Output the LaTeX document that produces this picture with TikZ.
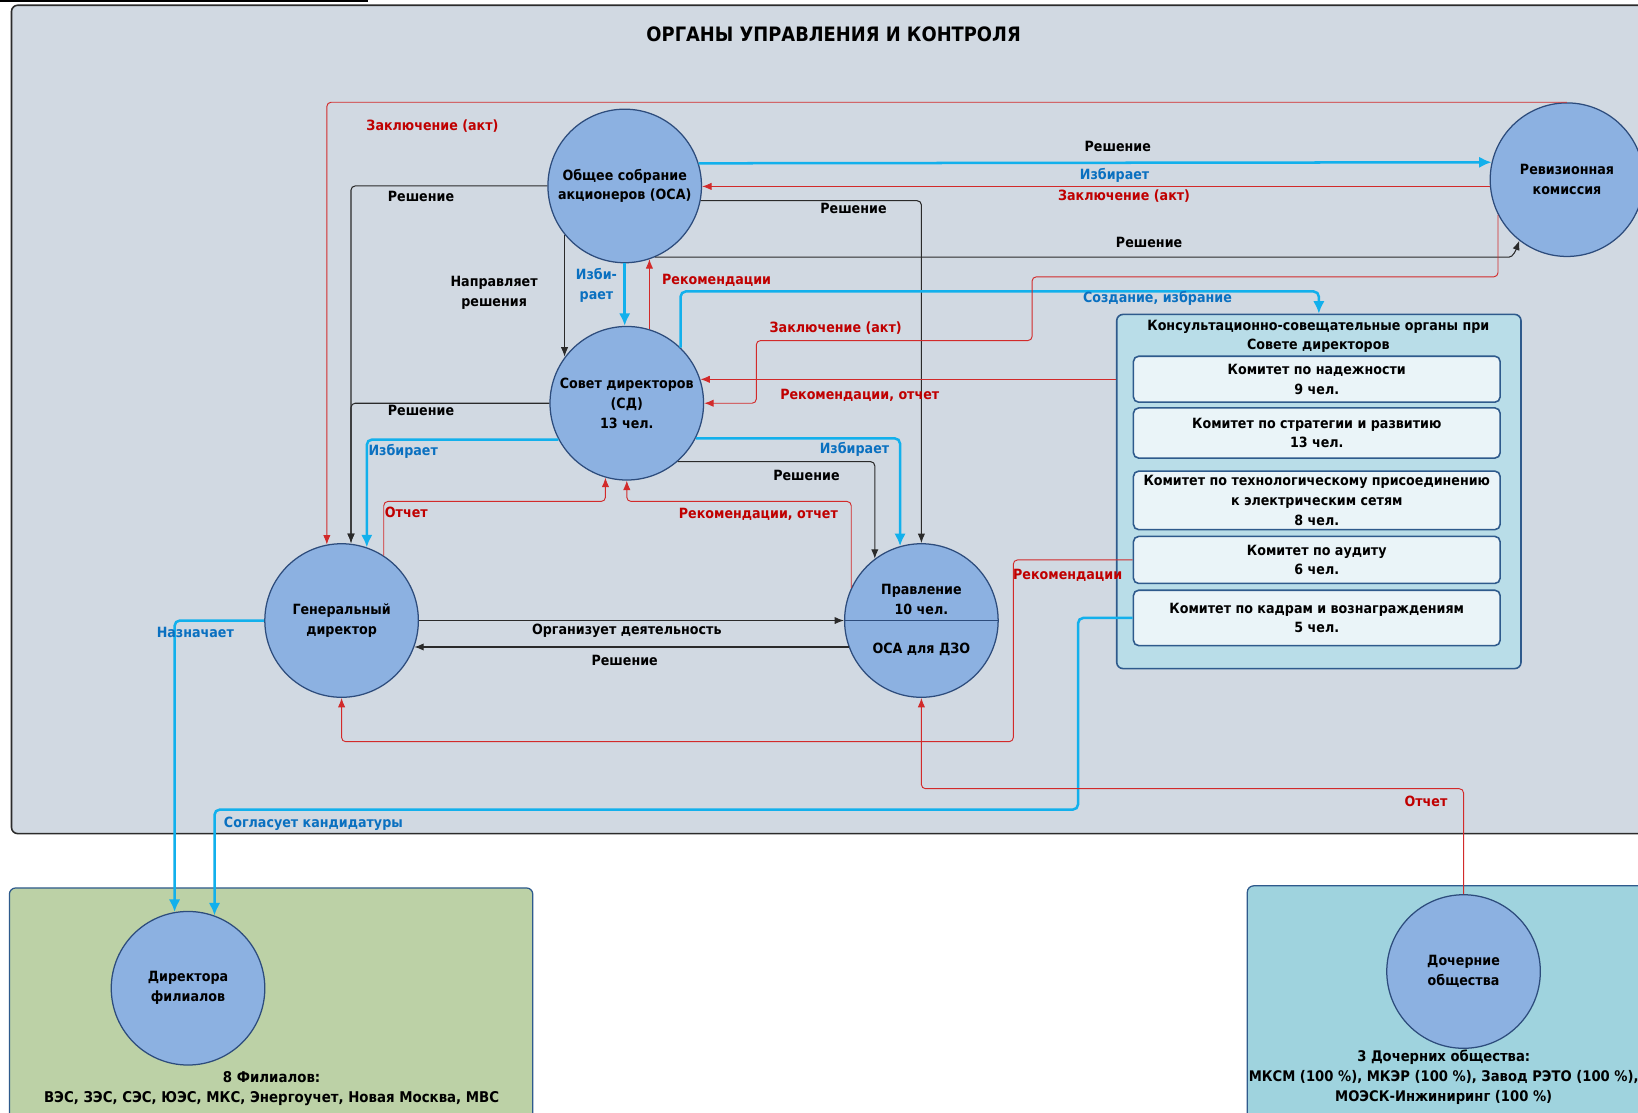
\documentclass[tikz,border=0pt]{standalone}
\usepackage{fontspec}
\setmainfont{DejaVu Sans}[FakeStretch=0.9]
\usetikzlibrary{positioning,arrows.meta}
\definecolor{bgmain}{HTML}{D1D9E2}
\definecolor{frameedge}{HTML}{2B2B2B}
\definecolor{circfill}{HTML}{8CB1E1}
\definecolor{circedge}{HTML}{2D4C7C}
\definecolor{ksofill}{HTML}{B9DDE8}
\definecolor{komfill}{HTML}{EAF4F8}
\definecolor{boxedge}{HTML}{2E5A8C}
\definecolor{filfill}{HTML}{BCD1A6}
\definecolor{dzofill}{HTML}{9FD3DE}
\definecolor{lineblk}{HTML}{2A2A2A}
\definecolor{linecyan}{HTML}{12B0EC}
\definecolor{linered}{HTML}{D22A2A}
\definecolor{labred}{HTML}{C00000}
\definecolor{labblue}{HTML}{0A70C0}

\begin{document}
\begin{tikzpicture}[x=1pt,y=-1pt,
  every node/.style={font=\bfseries\fontsize{13.5}{19}\selectfont, align=center, inner sep=1pt},
  organ/.style={circle, draw=circedge, fill=circfill, line width=1.2pt, minimum size=147pt, inner sep=0pt},
  kom/.style={draw=boxedge, fill=komfill, rounded corners=5pt, line width=1.5pt, minimum width=351pt},
  blk/.style={draw=lineblk, line width=1pt, rounded corners=4pt, -{Latex[length=9pt,width=7pt]}},
  cyn/.style={draw=linecyan, line width=2.4pt, rounded corners=5pt, -{Latex[length=12pt,width=11pt]}},
  rd/.style={draw=linered, line width=0.9pt, rounded corners=4pt, -{Latex[length=9pt,width=7pt]}},
  rtxt/.style={text=labred}, btxt/.style={text=labblue}]
  \fill[white] (0,0) rectangle (1568,1065);
  \useasboundingbox (0,0) rectangle (1568,1065);
  \clip (0,0) rectangle (1568,1065);
  \draw[line width=1.2pt] (0,1) -- (352,1);
  \draw[fill=bgmain, draw=frameedge, line width=1.5pt, rounded corners=6pt] (11,5) rectangle (1600,798);
  \node[font=\bfseries\fontsize{19}{22}\selectfont] (title) at (798,33) {ОРГАНЫ УПРАВЛЕНИЯ И КОНТРОЛЯ};

  \draw[fill=filfill, draw=boxedge, line width=1.2pt, rounded corners=6pt] (9,850) rectangle (510,1090);
  \draw[fill=dzofill, draw=boxedge, line width=1.2pt, rounded corners=6pt] (1194,848) rectangle (1600,1090);
  \node[font=\bfseries\fontsize{14.2}{19}\selectfont] (fil) at (260,1042) {8 Филиалов:\\ВЭС, ЗЭС, СЭС, ЮЭС, МКС, Энергоучет, Новая Москва, МВС};
  \node[font=\bfseries\fontsize{14}{19}\selectfont] (dzo) at (1382,1031) {3 Дочерних общества:\\МКСМ (100 \%), МКЭР (100 \%), Завод РЭТО (100 \%),\\МОЭСК-Инжиниринг (100 \%)};

  \node[draw=boxedge, fill=ksofill, rounded corners=6pt, line width=1.5pt, minimum width=387pt, minimum height=339pt] (kso) at (1262.5,470.5) {};
  \node (ksot) at (1262,322) {Консультационно-совещательные органы при\\Совете директоров};
  \node[kom, minimum height=44pt] (k1) at (1260.5,363) {Комитет по надежности\\9 чел.};
  \node[kom, minimum height=48pt, below=4pt of k1] (k2) {Комитет по стратегии и развитию\\13 чел.};
  \node[kom, minimum height=56pt, below=11pt of k2] (k3) {Комитет по технологическому присоединению\\к электрическим сетям\\8 чел.};
  \node[kom, minimum height=45pt, below=5pt of k3] (k4) {Комитет по аудиту\\6 чел.};
  \node[kom, minimum height=53pt, below=5pt of k4] (k5) {Комитет по кадрам и вознаграждениям\\5 чел.};

  \node[organ] (osa) at (598,178) {Общее собрание\\акционеров (ОСА)};
  \node[organ] (rev) at (1500,172) {Ревизионная\\комиссия};
  \node[organ] (sd) at (600,386) {Совет директоров\\(СД)\\13 чел.};
  \node[organ] (gd) at (327,594) {Генеральный\\директор};
  \node[organ] (pr) at (882,594) {};
  \draw[circedge, line width=1.2pt] (pr.west) -- (pr.east);
  \node (prt) at (882,574) {Правление\\10 чел.};
  \node (prd) at (882,622) {ОСА для ДЗО};
  \node[organ] (df) at (180,946) {Директора\\филиалов};
  \node[organ] (do) at (1401,930) {Дочерние\\общества};

  \coordinate (otchY) at (0,480);
  \coordinate (dzoY) at (0,755);

  \draw[blk] (osa.west) -| ([xshift=9pt]gd.north);
  \draw[blk] (sd.west) -| ([xshift=9pt]gd.north);
  \draw[blk] (osa.219) -- (osa.219 |- sd.143);
  \draw[blk] (osa.-11) -| (pr.north);
  \draw[blk] (osa.-67) -- ([xshift=-14pt]rev.232 |- osa.-67) to[out=0,in=-110] (rev.232);
  \draw[blk] (sd.-49) -| (pr.127);
  \draw[blk] (gd.east) -- (pr.west);
  \draw[blk] (pr.200) -- (gd.-20);

  \draw[cyn] (osa.17.5) -- (rev.167.5);
  \draw[cyn] (osa.south) -- (osa.south |- sd.north);
  \draw[cyn] (sd.208) -| (gd.71);
  \draw[cyn] (sd.-27) -| (pr.106);
  \draw[cyn] (sd.46) -- (sd.46 |- 0,279) -| (kso.north);
  \draw[cyn] (gd.west) -| (df.100);
  \draw[cyn] (k5.west) -| (1032,775) -| (df.70);

  \draw[rd] (rev.north) -| (gd.101);
  \draw[rd] (rev.185) -- (rev.185 -| osa.east);
  \draw[rd] (rev.207) |- (988,265) |- (724,326) |- (sd.east);
  \draw[rd] (kso.west |- sd.18) -- (sd.18);
  \draw[rd] (sd.73.5) -- (sd.73.5 |- osa.-71.6);
  \draw[rd] (gd.57) |- (sd.-106 |- otchY) -- (sd.-106);
  \draw[rd] (pr.155) |- (sd.south |- otchY) -- (sd.south);
  \draw[rd] (k4.west) -| (970,710) -| (gd.south);
  \draw[rd] (do.north) |- (pr.south |- dzoY) -- (pr.south);

  \node (l1) at (403,188) {Решение};
  \node (l2) at (403,393) {Решение};
  \node (l3) at (473,280) {Направляет\\решения};
  \node (l4) at (817,200) {Решение};
  \node (l5) at (1100,232) {Решение};
  \node (l6) at (772,455) {Решение};
  \node (l7) at (600,604) {Организует деятельность};
  \node (l8) at (598,632) {Решение};
  \node (l9) at (1070,140) {Решение};
  \node[btxt] (c1) at (1067,168) {Избирает};
  \node[btxt] (c2) at (571,273) {Изби-\\рает};
  \node[btxt] (c3) at (386,432) {Избирает};
  \node[btxt] (c4) at (818,430) {Избирает};
  \node[btxt] (c5) at (1108,286) {Создание, избрание};
  \node[btxt] (c6) at (187,605) {Назначает};
  \node[btxt] (c7) at (300,789) {Согласует кандидатуры};
  \node[rtxt] (r1) at (414,121) {Заключение (акт)};
  \node[rtxt] (r2) at (1076,188) {Заключение (акт)};
  \node[rtxt] (r3) at (800,314) {Заключение (акт)};
  \node[rtxt] (r4) at (823,378) {Рекомендации, отчет};
  \node[rtxt] (r5) at (686,268) {Рекомендации};
  \node[rtxt] (r6) at (389,490) {Отчет};
  \node[rtxt] (r7) at (726,492) {Рекомендации, отчет};
  \node[rtxt] (r8) at (1022,551) {Рекомендации};
  \node[rtxt] (r9) at (1365,767) {Отчет};
\end{tikzpicture}
\end{document}
